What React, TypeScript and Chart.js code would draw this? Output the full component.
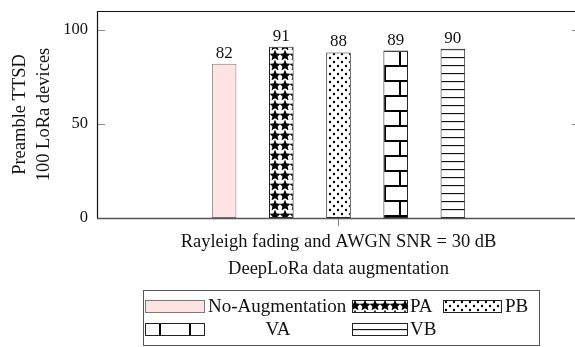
import React, { useEffect, useRef } from "react";
import { Chart, registerables } from "chart.js";

Chart.register(...registerables);

const categories = ["Rayleigh fading and AWGN SNR = 30 dB"];
const seriesNames = ["No-Augmentation", "PA", "PB", "VA", "VB"];
const noAugmentation = [82];
const paValues = [91];
const pbValues = [88];
const vaValues = [89];
const vbValues = [90];
const yTickValues = [0, 50, 100];
const yMax = 110;
const yTitle = ["Preamble TTSD", "100 LoRa devices"];
const xTitle = "DeepLoRa data augmentation";

const FONT = "'Liberation Serif', 'Times New Roman', serif";

function tile(w: number, h: number, draw: (c: CanvasRenderingContext2D) => void) {
  const cv = document.createElement("canvas");
  cv.width = w;
  cv.height = h;
  const c = cv.getContext("2d")!;
  c.fillStyle = "#ffffff";
  c.fillRect(0, 0, w, h);
  draw(c);
  return cv;
}

function starPath(c: CanvasRenderingContext2D, cx: number, cy: number, ro: number, ri: number) {
  c.beginPath();
  for (let i = 0; i < 10; i++) {
    const r = i % 2 === 0 ? ro : ri;
    const a = -Math.PI / 2 + (i * Math.PI) / 5;
    const x = cx + r * Math.cos(a);
    const y = cy + r * Math.sin(a);
    if (i === 0) c.moveTo(x, y);
    else c.lineTo(x, y);
  }
  c.closePath();
}

function makePatterns(ctx: CanvasRenderingContext2D) {
  const stars = tile(10, 10, (c) => {
    c.fillStyle = "#000";
    starPath(c, 5, 5.6, 6, 2.7);
    c.fill();
  });
  const dots = tile(8, 8, (c) => {
    c.fillStyle = "#000";
    c.beginPath();
    c.arc(2, 2, 1.2, 0, Math.PI * 2);
    c.arc(6, 6, 1.2, 0, Math.PI * 2);
    c.fill();
  });
  const bricks = tile(30, 30, (c) => {
    c.strokeStyle = "#000";
    c.lineWidth = 2;
    c.beginPath();
    c.moveTo(0, 1);
    c.lineTo(30, 1);
    c.moveTo(0, 16);
    c.lineTo(30, 16);
    c.moveTo(1, 1);
    c.lineTo(1, 16);
    c.moveTo(16, 16);
    c.lineTo(16, 31);
    c.stroke();
  });
  const hlines = tile(8, 8, (c) => {
    c.strokeStyle = "#111";
    c.lineWidth = 1.3;
    c.beginPath();
    c.moveTo(0, 0.5);
    c.lineTo(8, 0.5);
    c.stroke();
  });
  const pStars = ctx.createPattern(stars, "repeat")!;
  const pDots = ctx.createPattern(dots, "repeat")!;
  const pBricks = ctx.createPattern(bricks, "repeat")!;
  pBricks.setTransform(new DOMMatrix().translate(9, 20));
  const pH = ctx.createPattern(hlines, "repeat")!;
  pH.setTransform(new DOMMatrix().translate(0, 1));
  return { pStars, pDots, pBricks, pH };
}

export default function App() {
  const ref = useRef<HTMLCanvasElement | null>(null);

  useEffect(() => {
    document.body.style.margin = "0";
    const canvas = ref.current!;
    const ctx = canvas.getContext("2d")!;
    const { pStars, pDots, pBricks, pH } = makePatterns(ctx);
    const fills = ["rgb(255,226,226)", pStars, pDots, pBricks, pH];
    const borders = ["#7a7a7a", "#222", "#222", "#222", "#222"];
    const values = [noAugmentation, paValues, pbValues, vaValues, vbValues];

    const frame = {
      id: "frame",
      afterDatasetsDraw(chart: any) {
        const c = chart.ctx;
        const { left, right, top, bottom } = chart.chartArea;
        c.save();
        c.fillStyle = "#111";
        c.font = `17px ${FONT}`;
        c.textAlign = "center";
        c.textBaseline = "alphabetic";
        chart.data.datasets.forEach((ds: any, i: number) => {
          const meta = chart.getDatasetMeta(i);
          meta.data.forEach((bar: any, j: number) => {
            c.fillText(String(ds.data[j]), bar.x, bar.y - 6);
          });
        });
        const ys = chart.scales.y;
        c.strokeStyle = "#8a8a8a";
        c.lineWidth = 1;
        yTickValues.forEach((v) => {
          const py = Math.round(ys.getPixelForValue(v)) + 0.5;
          c.beginPath();
          c.moveTo(left, py);
          c.lineTo(left + 8, py);
          c.moveTo(right, py);
          c.lineTo(right - 8, py);
          c.stroke();
        });
        c.strokeStyle = "#111";
        c.lineWidth = 1.2;
        c.beginPath();
        c.moveTo(left + 0.5, bottom);
        c.lineTo(left + 0.5, top + 0.5);
        c.lineTo(right - 0.5, top + 0.5);
        c.lineTo(right - 0.5, bottom);
        c.stroke();
        c.strokeStyle = "#555";
        c.lineWidth = 1.5;
        c.beginPath();
        c.moveTo(left, bottom + 0.5);
        c.lineTo(right, bottom + 0.5);
        c.stroke();
        c.restore();
      },
      afterDraw(chart: any) {
        const c = chart.ctx;
        c.save();
        c.strokeStyle = "#555";
        c.lineWidth = 1;
        c.strokeRect(143.5, 290.5, 396, 55);
        c.font = `19px ${FONT}`;
        c.textBaseline = "middle";
        const items = [
          { sx: 145, sw: 59, y: 306, tx: 208, align: "left" },
          { sx: 352, sw: 55, y: 306, tx: 410, align: "left" },
          { sx: 443, sw: 58, y: 306, tx: 505, align: "left" },
          { sx: 145, sw: 59, y: 329, tx: 278, align: "center" },
          { sx: 352, sw: 55, y: 329, tx: 410, align: "left" },
        ];
        chart.data.datasets.forEach((ds: any, i: number) => {
          const it = items[i];
          c.fillStyle = ds.backgroundColor;
          c.fillRect(it.sx, it.y - 6, it.sw, 12);
          c.strokeStyle = ds.borderColor;
          c.lineWidth = 1;
          c.strokeRect(it.sx + 0.5, it.y - 6 + 0.5, it.sw, 12);
          c.fillStyle = "#111";
          c.textAlign = it.align;
          c.fillText(ds.label, it.tx, it.y + 1);
        });
        c.restore();
      },
    };

    const chart = new Chart(canvas, {
      type: "bar",
      data: {
        labels: categories,
        datasets: seriesNames.map((name, i) => ({
          label: name,
          data: values[i],
          backgroundColor: fills[i] as any,
          borderColor: borders[i],
          borderWidth: 1,
          borderSkipped: false,
          categoryPercentage: 0.592,
          barPercentage: 0.43,
        })),
      },
      options: {
        responsive: false,
        animation: false,
        events: [],
        layout: { padding: { top: 11, right: 5, bottom: 65, left: 0 } },
        plugins: {
          legend: { display: false },
          tooltip: { enabled: false },
          title: { display: false },
        },
        scales: {
          x: {
            type: "category",
            grid: {
              display: true,
              drawOnChartArea: false,
              drawTicks: true,
              tickLength: 8,
              offset: false,
              color: "#8a8a8a",
            },
            border: { display: false },
            ticks: {
              color: "#111",
              padding: 5,
              font: { family: FONT, size: 18.5 },
              maxRotation: 0,
            },
            title: {
              display: true,
              text: xTitle,
              color: "#111",
              font: { family: FONT, size: 18.5, lineHeight: 1.2 },
              padding: { top: 0, bottom: 2 },
            },
            afterFit(scale: any) {
              scale.height = 64;
              scale.paddingLeft = 0;
              scale.paddingRight = 0;
            },
          },
          y: {
            type: "linear",
            min: 0,
            max: yMax,
            grid: { display: false, drawTicks: false },
            border: { display: false },
            ticks: {
              color: "#111",
              padding: 9,
              font: { family: FONT, size: 16.5 },
            },
            afterBuildTicks(scale: any) {
              scale.ticks = yTickValues.map((v) => ({ value: v }));
            },
            title: {
              display: true,
              text: yTitle,
              color: "#111",
              font: { family: FONT, size: 18.5, lineHeight: 1.3 },
              padding: { top: 8, bottom: 0 },
            },
            afterFit(scale: any) {
              scale.width = 97;
              scale.paddingTop = 0;
              scale.paddingBottom = 0;
            },
          },
        },
      },
      plugins: [frame],
    } as any);

    return () => chart.destroy();
  }, []);

  return (
    <div style={{ width: 575, height: 347, overflow: "hidden", position: "relative" }}>
      <canvas ref={ref} width={585} height={347} style={{ display: "block", width: 585, height: 347 }} />
    </div>
  );
}
